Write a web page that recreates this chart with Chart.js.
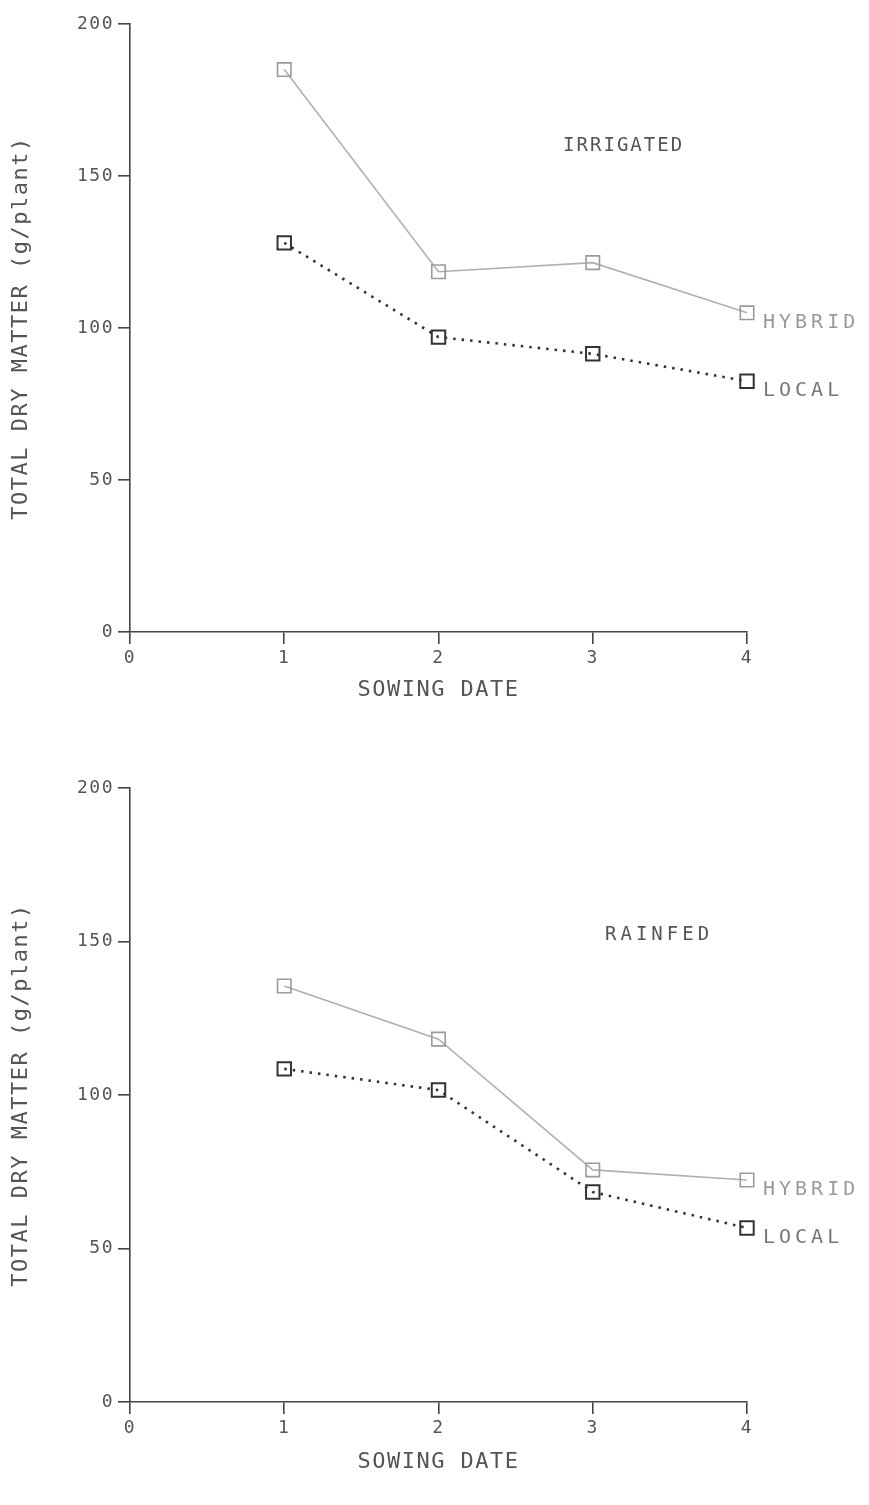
<!DOCTYPE html>
<html>
<head>
<meta charset="utf-8">
<script src="https://cdn.jsdelivr.net/npm/chart.js@4.4.1/dist/chart.umd.min.js"></script>
<style>
  html, body { margin: 0; padding: 0; background: #fff; }
  body { width: 869px; height: 1505px; position: relative; overflow: hidden; }
  .box { position: absolute; left: 0; width: 869px; }
  #b1 { top: 0; height: 740px; }
  #b2 { top: 760px; height: 745px; }
</style>
</head>
<body>
<div class="box" id="b1"><canvas id="c1"></canvas></div>
<div class="box" id="b2"><canvas id="c2"></canvas></div>
<script>
// ---- data ----
const sowingDates = [1, 2, 3, 4];
const xTicks = [0, 1, 2, 3, 4];
const yTicks = [0, 50, 100, 150, 200];
const irrigatedHybrid = [185, 118.5, 121.5, 105];
const irrigatedLocal = [128, 97, 91.5, 82.5];
const rainfedHybrid = [135.5, 118.2, 75.6, 72.3];
const rainfedLocal = [108.5, 101.6, 68.4, 56.7];
const seriesNames = ['HYBRID', 'LOCAL'];
const panelTitles = ['IRRIGATED', 'RAINFED'];
const yTitle = 'TOTAL DRY MATTER (g/plant)';
const xTitle = 'SOWING DATE';

const FONT = "'DejaVu Sans Mono', 'Liberation Mono', monospace";

function pts(vals) { return sowingDates.map((d, i) => ({ x: d, y: vals[i] })); }

const spacingPlugin = {
  id: 'spacing',
  beforeLayout(chart) { chart.ctx.letterSpacing = '1.5px'; },
  beforeDraw(chart) { chart.ctx.letterSpacing = '1.5px'; }
};

const labelPlugin = {
  id: 'labels',
  afterDatasetsDraw(chart, args, opts) {
    const ctx = chart.ctx;
    const xs = chart.scales.x, ys = chart.scales.y;
    ctx.save();
    // panel title
    ctx.letterSpacing = opts.titleSpacing + 'px';
    ctx.font = '19px ' + FONT;
    ctx.fillStyle = '#555';
    ctx.textAlign = 'center';
    ctx.textBaseline = 'middle';
    ctx.fillText(opts.title, xs.getPixelForValue(opts.titlePos[0]), ys.getPixelForValue(opts.titlePos[1]));
    // series end labels
    ctx.textAlign = 'left';
    ctx.font = '20px ' + FONT;
    ctx.letterSpacing = '4px';
    chart.data.datasets.forEach((ds, i) => {
      const last = ds.data[ds.data.length - 1];
      ctx.fillStyle = i === 0 ? '#9a9a9a' : '#777';
      ctx.fillText(ds.label, xs.getPixelForValue(last.x) + 16, ys.getPixelForValue(last.y) + 10);
    });
    ctx.restore();
  }
};

function makeChart(id, hyb, loc, title, titlePos, titleSpacing, topPad, xAxisH, xTitlePad) {
  return new Chart(document.getElementById(id), {
    type: 'line',
    data: {
      datasets: [
        {
          label: seriesNames[0], data: pts(hyb), clip: false,
          borderColor: '#b0b0b0', borderWidth: 1.6,
          pointStyle: 'rect', pointRadius: 9.5, pointBorderWidth: 1.6,
          pointBorderColor: '#9a9a9a', pointBackgroundColor: 'rgba(255,255,255,0)'
        },
        {
          label: seriesNames[1], data: pts(loc), clip: false,
          borderColor: '#333', borderWidth: 2.6, borderDash: [2.5, 6],
          pointStyle: 'rect', pointRadius: 9.5, pointBorderWidth: 2,
          pointBorderColor: '#333', pointBackgroundColor: 'rgba(255,255,255,0)'
        }
      ]
    },
    options: {
      responsive: true, maintainAspectRatio: false, animation: false,
      layout: { padding: { top: topPad, right: 122, bottom: 0, left: 0 } },
      plugins: {
        legend: { display: false }, tooltip: { enabled: false },
        labels: { title: title, titlePos: titlePos, titleSpacing: titleSpacing }
      },
      scales: {
        x: {
          type: 'linear', min: 0, max: 4,
          afterBuildTicks: s => { s.ticks = xTicks.map(v => ({ value: v })); },
          afterFit: s => { s.height = xAxisH; },
          border: { display: true, color: '#444', width: 1.6 },
          grid: { display: true, drawOnChartArea: false, drawTicks: true, tickLength: 12, color: '#444', lineWidth: 1.6 },
          ticks: { color: '#555', font: { family: FONT, size: 18 }, padding: 4, maxRotation: 0 },
          title: { display: true, text: xTitle, color: '#555', font: { family: FONT, size: 22 }, padding: { top: 0, bottom: xTitlePad } }
        },
        y: {
          type: 'linear', min: 0, max: 200,
          afterBuildTicks: s => { s.ticks = yTicks.map(v => ({ value: v })); },
          afterFit: s => { s.width = 130; },
          border: { display: true, color: '#444', width: 1.6 },
          grid: { display: true, drawOnChartArea: false, drawTicks: true, tickLength: 12, color: '#444', lineWidth: 1.6 },
          ticks: { color: '#555', font: { family: FONT, size: 18 }, padding: 4 },
          title: { display: true, text: yTitle, color: '#555', font: { family: FONT, size: 22 }, padding: { top: 8, bottom: 0 } }
        }
      }
    },
    plugins: [spacingPlugin, labelPlugin]
  });
}

makeChart('c1', irrigatedHybrid, irrigatedLocal, panelTitles[0], [3.2, 160], 2, 24, 108, 37);
makeChart('c2', rainfedHybrid, rainfedLocal, panelTitles[1], [3.43, 152], 4, 28, 103, 30);
</script>
</body>
</html>
